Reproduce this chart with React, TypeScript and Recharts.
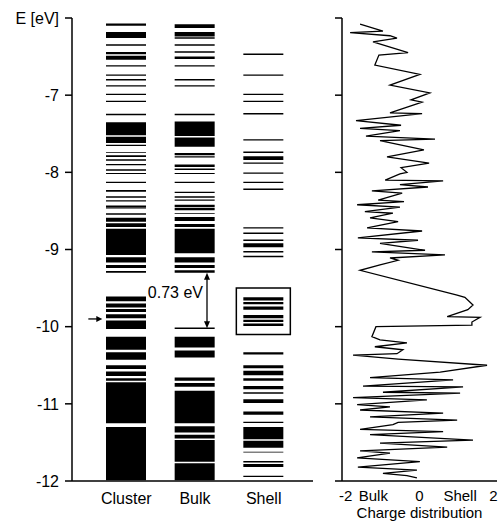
import React from 'react'
import { BarChart, Bar, XAxis, YAxis, ReferenceLine, ReferenceDot, LineChart, Line, Label } from 'recharts'

const columns = ['Cluster', 'Bulk', 'Shell']

// energy levels in eV: dense blocks as [top, bottom], single levels as one value
const clusterBands = [
  [-6.07, -6.1], [-6.18, -6.26], [-6.44, -6.47], [-6.49, -6.54], [-7.35, -7.52], [-7.54, -7.62],
  [-7.74, -7.75], [-7.78, -7.8], [-7.83, -7.85], [-8.01, -8.02], [-8.23, -8.25], [-8.53, -8.55],
  [-8.59, -8.64], [-8.66, -8.71], [-8.73, -9.07], [-9.1, -9.17], [-9.2, -9.24], [-9.28, -9.3],
  [-9.61, -9.67], [-9.7, -9.75], [-9.77, -9.81], [-9.84, -9.89], [-9.92, -10.03], [-10.13, -10.3],
  [-10.33, -10.43], [-10.5, -10.55], [-10.58, -10.64], [-10.67, -10.7], [-10.72, -11.25], [-11.3, -11.99],
]
const clusterLines = [-6.35, -6.62, -6.74, -6.8, -6.88, -6.99, -7.08, -7.25, -7.65, -7.9, -7.97, -8.13, -8.32, -8.37, -8.44, -8.46]

const bulkBands = [
  [-6.08, -6.13], [-6.18, -6.24], [-6.5, -6.53], [-7.34, -7.53], [-7.55, -7.67], [-7.75, -7.78],
  [-7.9, -7.93], [-8.01, -8.02], [-8.42, -8.45], [-8.46, -8.49], [-8.53, -8.54], [-8.58, -8.63],
  [-8.67, -8.71], [-8.73, -9.05], [-9.1, -9.17], [-9.2, -9.24], [-9.27, -9.3], [-10.13, -10.27],
  [-10.31, -10.4], [-10.66, -10.7], [-10.73, -10.78], [-10.83, -11.25], [-11.29, -11.37], [-11.4, -11.45],
  [-11.47, -11.75], [-11.77, -11.99],
]
const bulkLines = [-6.26, -6.35, -6.44, -6.62, -6.8, -6.88, -7.25, -7.8, -7.96, -8.13, -8.26, -8.32, -8.36, -10.02]

const shellBands = [
  [-7.79, -7.84], [-8.92, -8.97], [-9.62, -9.66], [-9.68, -9.71], [-9.74, -9.78], [-9.85, -9.89],
  [-9.91, -9.94], [-9.96, -9.99], [-10.33, -10.36], [-10.5, -10.54], [-10.57, -10.63], [-10.67, -10.7],
  [-10.77, -10.81], [-10.94, -10.99], [-11.1, -11.14], [-11.3, -11.46], [-11.48, -11.57], [-11.62, -11.63],
  [-11.78, -11.82],
]
const shellLines = [-6.47, -6.74, -6.99, -7.08, -7.24, -7.58, -7.74, -7.88, -8.01, -8.13, -8.22, -8.72, -8.79, -8.88, -9.03, -9.09, -10.86, -11.24, -11.75, -11.94]

const shellBox = [-9.5, -10.1]
const gapTop = -9.3
const gapBottom = -10.02
const gapLabel = '0.73 eV'
const markedLevel = -9.9

const energyTicks = [-12, -11, -10, -9, -8, -7, -6]

// charge distribution trace, top to bottom
const chargeE = [
  -6.08, -6.17, -6.19, -6.23, -6.26, -6.31, -6.45, -6.48, -6.61, -6.73,
  -6.87, -6.97, -7.06, -7.09, -7.23, -7.24, -7.33, -7.39, -7.43, -7.46,
  -7.53, -7.57, -7.59, -7.71, -7.8, -7.88, -7.94, -8.0, -8.02, -8.1,
  -8.11, -8.16, -8.19, -8.24, -8.27, -8.36, -8.38, -8.42, -8.45, -8.51,
  -8.53, -8.59, -8.64, -8.72, -8.76, -8.85, -8.88, -8.92, -9.01, -9.03,
  -9.07, -9.11, -9.14, -9.2, -9.27, -9.59, -9.62, -9.72, -9.78, -9.87,
  -9.88, -9.94, -9.98, -10.0, -10.13, -10.17, -10.21, -10.26, -10.3, -10.35,
  -10.37, -10.42, -10.5, -10.59, -10.66, -10.69, -10.77, -10.78, -10.85, -10.86,
  -10.92, -10.95, -11.01, -11.04, -11.08, -11.12, -11.17, -11.21, -11.24, -11.27,
  -11.33, -11.36, -11.4, -11.47, -11.51, -11.56, -11.61, -11.64, -11.7, -11.75,
  -11.82, -11.86, -11.9, -11.93, -11.96,
]
const chargeQ = [
  -1.61, -0.99, -1.88, -0.8, -0.61, -1.26, -0.31, -1.1, -1.21, 0.01,
  -0.8, 0.28, -0.23, 0.07, -0.8, 0.07, -1.72, -0.5, -1.61, -0.53,
  -1.45, 0.42, -1.07, 0.12, -0.88, 0.26, -0.5, -0.34, -0.53, -0.93,
  0.64, -0.53, 0.23, -1.29, -0.47, -1.12, -0.42, -1.69, -0.53, -1.48,
  -0.72, -1.34, -0.58, -1.42, 0.07, -1.67, -0.04, -1.07, 0.15, -1.29,
  0.69, -0.8, -0.58, -1.07, -1.61, 1.02, 1.23, 1.45, 1.31, 0.75,
  1.64, 1.42, 1.42, -1.18, -1.29, -1.07, -0.34, -1.21, -0.45, -0.61,
  -1.8, -0.58, 1.83, 0.56, -1.34, 0.91, -1.53, 1.18, -0.99, 1.1,
  -1.8, 0.2, -1.69, -0.8, -1.61, 0.64, -1.34, 1.02, -0.58, -0.72,
  -1.61, 0.64, -1.34, 1.45, -1.07, 0.75, -1.61, -0.8, -1.69, 0.01,
  -1.67, -0.07, -0.99, -0.34, -0.07,
]
const chargeTicks = [-2, -1.25, 0, 1.1, 2]
const chargeTickLabels = ['-2', 'Bulk', '0', 'Shell', '2']

const LINE_HALF = 0.009
const FONT = '"Liberation Sans", Arial, Helvetica, sans-serif'

const toRanges = (bands: number[][], lines: number[]) => [
  ...bands.map(([a, b]) => [Math.min(a, b), Math.max(a, b)]),
  ...lines.map(e => [e - LINE_HALF, e + LINE_HALF]),
]

const levelSets = [toRanges(clusterBands, clusterLines), toRanges(bulkBands, bulkLines), toRanges(shellBands, shellLines)]
const levelKeys = Array.from({ length: Math.max(...levelSets.map(s => s.length)) }, (_, i) => `l${i}`)

const levelData = columns.map((name, ci) => {
  const row: Record<string, any> = { name }
  levelSets[ci].forEach((r, i) => { row[`l${i}`] = r })
  if (name === 'Shell') row.box = [Math.min(...shellBox), Math.max(...shellBox)]
  return row
})

const chargeData = chargeE.map((E, i) => ({ E, q: chargeQ[i] }))

const GapArrow = (props: any) => {
  const top = Math.min(props.y1, props.y2)
  const bot = Math.max(props.y1, props.y2)
  const x = props.x1 + 12
  return (
    <g>
      <line x1={x} y1={top + 3} x2={x} y2={bot - 3} stroke="#000" strokeWidth={1.3} />
      <path d={`M${x - 3},${top + 7} L${x},${top} L${x + 3},${top + 7} Z`} fill="#000" />
      <path d={`M${x - 3},${bot - 7} L${x},${bot} L${x + 3},${bot - 7} Z`} fill="#000" />
      <text x={x - 4} y={(top + bot) / 2 - 2} textAnchor="end" fontSize={16} fill="#000" fontFamily={FONT}>{gapLabel}</text>
    </g>
  )
}

const MarkArrow = ({ cx, cy }: any) => (
  <g>
    <line x1={cx - 38} y1={cy} x2={cx - 28} y2={cy} stroke="#000" strokeWidth={1.3} />
    <path d={`M${cx - 30},${cy - 3} L${cx - 24},${cy} L${cx - 30},${cy + 3} Z`} fill="#000" />
  </g>
)

const axisStyle = { stroke: '#000', strokeWidth: 1.5 }
const tickStyle = { fill: '#000', fontSize: 16 }

export default function App() {
  return (
    <div style={{ position: 'absolute', left: 0, top: 0, width: 499, height: 523, background: '#fff', fontFamily: FONT }}>
      <div style={{ position: 'absolute', left: 0, top: 0 }}>
        <BarChart width={320} height={523} data={levelData} margin={{ top: 18, right: 7, bottom: 0, left: 10 }} barGap={-40}>
          <XAxis dataKey="name" padding={{ left: 20, right: 15 }} tickLine={false} axisLine={axisStyle}
            tick={tickStyle} tickMargin={6} height={42} interval={0} />
          <XAxis xAxisId="box" dataKey="name" padding={{ left: 20, right: 15 }} hide />
          <YAxis type="number" domain={[-12, -6]} ticks={energyTicks} allowDataOverflow width={62} tickSize={7} tickMargin={6}
            axisLine={axisStyle} tickLine={axisStyle} tick={tickStyle}
            tickFormatter={(v: number) => (v === -6 ? 'E [eV]' : String(v))} />
          {levelKeys.map(k => (
            <Bar key={k} dataKey={k} fill="#000" barSize={40} isAnimationActive={false} />
          ))}
          <Bar xAxisId="box" dataKey="box" fill="none" stroke="#000" strokeWidth={1.5} barSize={54} isAnimationActive={false} />
          <ReferenceLine segment={[{ x: 'Bulk', y: gapTop }, { x: 'Bulk', y: gapBottom }]} shape={GapArrow} />
          <ReferenceDot x="Cluster" y={markedLevel} shape={MarkArrow} />
        </BarChart>
      </div>
      <div style={{ position: 'absolute', left: 320, top: 0 }}>
        <LineChart layout="vertical" width={179} height={523} data={chargeData} margin={{ top: 18, right: 2, bottom: 0, left: 0 }}>
          <XAxis type="number" dataKey="q" domain={[-2.1, 2.1]} ticks={chargeTicks} allowDataOverflow interval={0}
            tickFormatter={(v: number) => chargeTickLabels[chargeTicks.indexOf(v)] ?? ''}
            tickLine={false} axisLine={axisStyle} tick={{ fill: '#000', fontSize: 15 }} tickMargin={3} height={42}>
            <Label value="Charge distribution" position="insideBottom" offset={5} fill="#000" fontSize={15} />
          </XAxis>
          <YAxis type="number" dataKey="E" domain={[-12, -6]} ticks={energyTicks} allowDataOverflow reversed width={22} tickSize={7}
            axisLine={axisStyle} tickLine={axisStyle} tick={tickStyle} tickFormatter={() => ''} />
          <Line dataKey="q" stroke="#000" strokeWidth={1.3} dot={false} isAnimationActive={false} />
        </LineChart>
      </div>
    </div>
  )
}
